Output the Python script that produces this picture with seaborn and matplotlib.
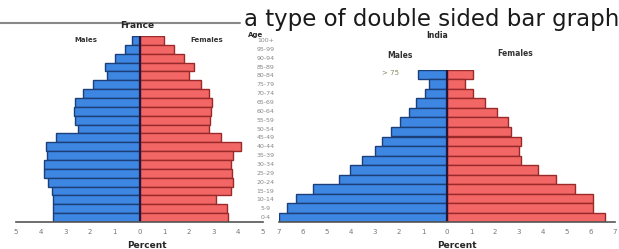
import matplotlib
matplotlib.use("Agg")
import matplotlib.pyplot as plt
import seaborn as sns
import pandas as pd

# France, age groups listed top -> bottom
france_ages = ["100+", "95-99", "90-94", "85-89", "80-84", "75-79", "70-74", "65-69",
               "60-64", "55-59", "50-54", "45-49", "40-44", "35-39", "30-34", "25-29",
               "20-24", "15-19", "10-14", "5-9", "0-4"]
france_males = [0.3, 0.6, 1.0, 1.4, 1.3, 1.9, 2.3, 2.6, 2.65, 2.6, 2.5, 3.4, 3.8,
                3.75, 3.85, 3.85, 3.7, 3.55, 3.5, 3.5, 3.5]
france_females = [1.0, 1.4, 1.8, 2.2, 2.0, 2.5, 2.8, 2.95, 2.9, 2.85, 2.8, 3.3, 4.1,
                  3.8, 3.7, 3.75, 3.8, 3.7, 3.1, 3.55, 3.6]

# India, age groups listed top -> bottom
india_ages = ["75+", "70-74", "65-69", "60-64", "55-59", "50-54", "45-49", "40-44",
              "35-39", "30-34", "25-29", "20-24", "15-19", "10-14", "5-9", "0-4"]
india_males = [1.2, 0.75, 0.9, 1.3, 1.6, 1.95, 2.35, 2.7, 3.0, 3.55, 4.05, 4.5,
               5.6, 6.3, 6.65, 7.0]
india_females = [1.1, 0.75, 1.1, 1.6, 2.1, 2.55, 2.65, 3.1, 3.0, 3.1, 3.8, 4.55,
                 5.35, 6.1, 6.1, 6.6]

BLUE, BLUE_EDGE = "#3d86e2", "#1d3f78"
RED, RED_EDGE = "#f26666", "#9a2a2a"

sns.set_style("white")
plt.rcParams["font.family"] = ["DejaVu Sans"]

W, H = 619, 249
fig = plt.figure(figsize=(W / 100, H / 100), dpi=100)


def px_axes(x0, x1, ytop, ybot):
    return fig.add_axes([x0 / W, (H - ybot) / H, (x1 - x0) / W, (ybot - ytop) / H])


def pyramid(ax, ages, males, females, lim):
    df = pd.DataFrame({"age": ages, "male": [-m for m in males], "female": females})
    sns.barplot(data=df, x="male", y="age", order=ages, orient="h", color=BLUE,
                width=1.0, edgecolor=BLUE_EDGE, linewidth=1.0, saturation=1, ax=ax)
    sns.barplot(data=df, x="female", y="age", order=ages, orient="h", color=RED,
                width=1.0, edgecolor=RED_EDGE, linewidth=1.0, saturation=1, ax=ax)
    ax.axvline(0, color="#26163a", lw=1.6)
    ax.set_xlim(-lim, lim)
    ticks = list(range(-lim, lim + 1))
    ax.set_xticks(ticks)
    ax.set_xticklabels([str(abs(t)) for t in ticks], fontsize=5, color="#777777")
    ax.set_yticks([])
    ax.set_xlabel("")
    ax.set_ylabel("")
    for s in ["top", "left", "right"]:
        ax.spines[s].set_visible(False)
    ax.spines["bottom"].set_color("#555555")
    ax.spines["bottom"].set_linewidth(1.2)
    ax.tick_params(axis="x", direction="out", length=3, width=0.8, color="#666666", pad=2)
    ax.set_facecolor("none")


ax1 = px_axes(16, 263, 36, 222)
pyramid(ax1, france_ages, france_males, france_females, 5)
for i, a in enumerate(france_ages):
    ax1.text(5.1, i, a, fontsize=4.5, color="#888888", ha="center", va="center",
             clip_on=False)

ax2 = px_axes(279, 615, 70, 222)
pyramid(ax2, india_ages, india_males, india_females, 7)

# texts
fig.text(244 / W, 1 - 26 / H, "a type of double sided bar graph", fontsize=16.5,
         color="#1a1a1a", ha="left", va="baseline")
fig.add_artist(plt.Line2D([0, 240 / W], [1 - 23 / H, 1 - 23 / H], color="#888888", lw=1.5))
fig.text(137 / W, 1 - 25 / H, "France", fontsize=6.5, fontweight="bold", ha="center", va="center")
fig.text(256 / W, 1 - 35.5 / H, "Age", fontsize=5, fontweight="bold", ha="center", va="center")
fig.text(86 / W, 1 - 40 / H, "Males", fontsize=5, fontweight="bold", color="#333333",
         ha="center", va="center")
fig.text(207 / W, 1 - 40 / H, "Females", fontsize=5, fontweight="bold", color="#333333",
         ha="center", va="center")
fig.text(437 / W, 1 - 36 / H, "India", fontsize=5.5, fontweight="bold", ha="center", va="center")
fig.text(400 / W, 1 - 55 / H, "Males", fontsize=5.5, fontweight="bold", color="#333333",
         ha="center", va="center")
fig.text(515 / W, 1 - 53 / H, "Females", fontsize=5.5, fontweight="bold", color="#333333",
         ha="center", va="center")
fig.text(391 / W, 1 - 73 / H, "> 75", fontsize=5, color="#888866", ha="center", va="center")
fig.text(147 / W, 1 - 245 / H, "Percent", fontsize=6.5, fontweight="bold", ha="center", va="center")
fig.text(457 / W, 1 - 245 / H, "Percent", fontsize=6.5, fontweight="bold", ha="center", va="center")

fig.savefig("out.png", dpi=100)
